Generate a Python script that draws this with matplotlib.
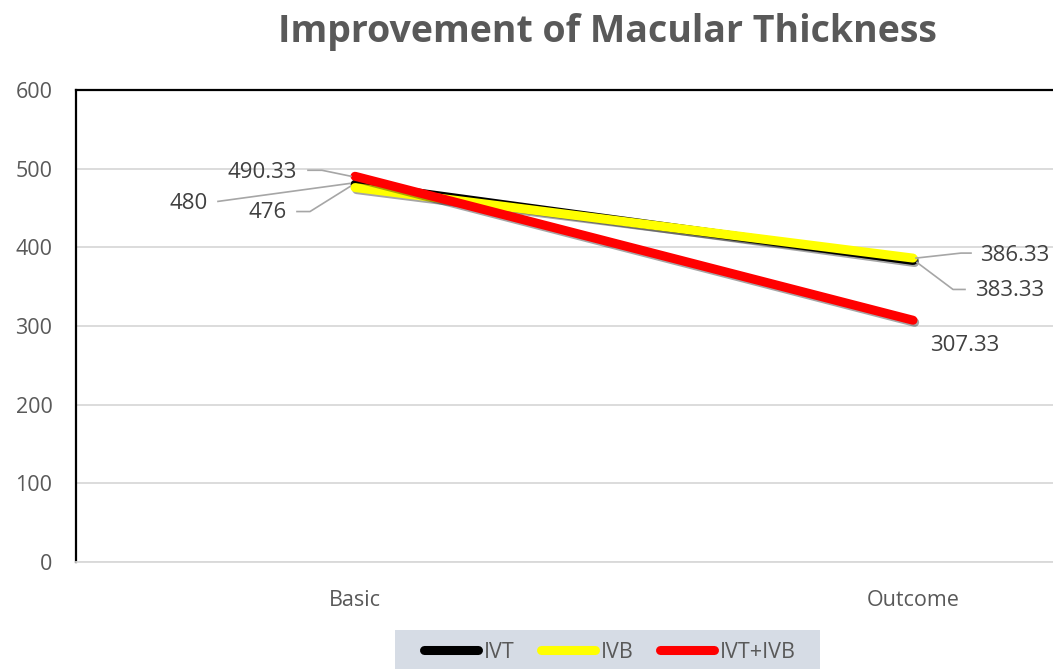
"""Improvement of macular thickness: line chart of three treatment groups."""

import matplotlib

matplotlib.use("Agg", force=True)
import matplotlib.pyplot as plt
import matplotlib.patheffects as pe
import matplotlib.transforms as mtransforms
from matplotlib.patches import Rectangle

categories = ["Basic", "Outcome"]
series_names = ["IVT", "IVB", "IVT+IVB"]
ivt = [480, 383.33]
ivb = [476, 386.33]
ivt_ivb = [490.33, 307.33]
y_ticks = [0, 100, 200, 300, 400, 500, 600]

colors = {"IVT": "#000000", "IVB": "#ffff00", "IVT+IVB": "#ff0000"}
values = {"IVT": ivt, "IVB": ivb, "IVT+IVB": ivt_ivb}

# label placement (pixel offsets from the point: text centre, leader vertices)
label_layout = {
    ("IVT+IVB", 0): ((-93, 4), [(-47, 6), (-33, 6), (-4, 0)]),
    ("IVT", 0): ((-166, -19), [(-137, -17), (-5, 1)]),
    ("IVB", 0): ((-87, -25), [(-58, -24), (-45, -24), (-5, 1)]),
    ("IVB", 1): ((102, 3), [(3, 0), (48, 5), (58, 5)]),
    ("IVT", 1): ((97, -30), [(4, -2), (40, -29), (52, -29)]),
    ("IVT+IVB", 1): ((52, -25), None),
}

plt.rcParams["font.family"] = ["Open Sans", "DejaVu Sans"]

W, H = 1053, 669
fig = plt.figure(figsize=(W / 100, H / 100), dpi=100)
ax = fig.add_axes([76 / W, 107 / H, 1116 / W, 472 / H])

x = list(range(len(categories)))
shadow = [pe.SimpleLineShadow(offset=(1.2, -1.5), alpha=0.35), pe.Normal()]
for name in series_names:
    ax.plot(x, values[name], color=colors[name], linewidth=6.5,
            solid_capstyle="round", label=name, path_effects=shadow, zorder=3)

ax.set_xlim(-0.5, 1.5)
ax.set_ylim(0, 600)
ax.set_yticks(y_ticks)
ax.set_xticks(x)
ax.set_xticklabels(categories)
ax.tick_params(axis="both", length=0, labelsize=15.5, labelcolor="#595959")
ax.tick_params(axis="y", pad=17)
ax.tick_params(axis="x", pad=20)
ax.grid(axis="y", color="#d9d9d9", linewidth=1.3, zorder=0)
ax.set_axisbelow(True)
ax.spines["right"].set_visible(False)
ax.spines["left"].set_color("black")
ax.spines["left"].set_linewidth(1.6)
ax.spines["top"].set_color("black")
ax.spines["top"].set_linewidth(1.6)
ax.spines["bottom"].set_color("#d9d9d9")
ax.spines["bottom"].set_linewidth(1.3)

dpi = fig.dpi
for (name, i), (text_off, leader) in label_layout.items():
    xv, yv = x[i], values[name][i]
    ax.annotate(f"{yv:g}", xy=(xv, yv), xytext=text_off, textcoords="offset pixels",
                ha="center", va="center", fontsize=16, color="#404040", zorder=5)
    if leader:
        trans = fig.dpi_scale_trans + mtransforms.ScaledTranslation(xv, yv, ax.transData)
        lx = [p[0] / dpi for p in leader]
        ly = [p[1] / dpi for p in leader]
        ax.plot(lx, ly, transform=trans, color="#a6a6a6", linewidth=1.2,
                clip_on=False, zorder=4)

fig.text(607 / W, 1 - 32 / H, "Improvement of Macular Thickness",
         ha="center", va="center", fontsize=27, fontweight="bold", color="#595959")

# legend background band (cropped at the bottom edge as in the source)
fig.patches.append(Rectangle((395 / W, -0.01), 425 / W, 0.01 + 39 / H,
                             transform=fig.transFigure, facecolor="#d6dce5",
                             edgecolor="none", zorder=0))
leg = fig.legend(loc="center", bbox_to_anchor=(610 / W, 1 - 652 / H),
                 ncol=3, frameon=False, fontsize=15.5, handlelength=2.5,
                 handletextpad=0.3, columnspacing=1.2, borderpad=0.0)
for t in leg.get_texts():
    t.set_color("#595959")
for h in leg.legend_handles:
    h.set_path_effects([])
    h.set_linewidth(6.5)

fig.savefig("out.png", dpi=100)
plt.close(fig)
